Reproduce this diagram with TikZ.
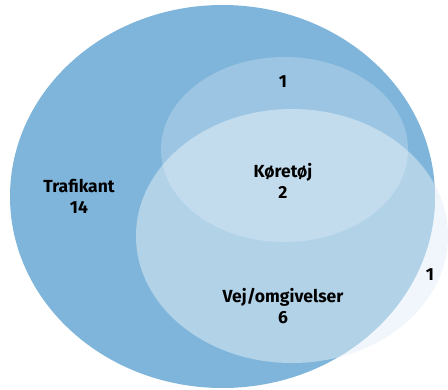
\documentclass[tikz,border=0pt]{standalone}
\usepackage{fontspec}
\setmainfont{Fira Sans}
\usepackage{xcolor}
\usepackage{tikz}
\definecolor{trafikblue}{HTML}{7FB5DA}
\definecolor{vejpale}{HTML}{F0F6FB}
\tikzset{
setlabel/.style={
font=\bfseries\fontsize{17.5}{21}\selectfont,
align=center,
text=black,
inner sep=0pt
},
overlay/.style={
fill=white,
fill opacity=#1
}
}

\begin{document}
\begin{tikzpicture}[x=1pt,y=-1pt]
\useasboundingbox (0,0) rectangle (448,389);
\clip (0,0) rectangle (448,389);

% sets
\fill[vejpale] (292,236) ellipse [x radius=156, y radius=127];
\fill[trafikblue] (222.5,196.5) ellipse [x radius=212.5, y radius=191.5];
\fill[overlay=0.22] (284.5,149.5) ellipse [x radius=123.5, y radius=92.5];
\begin{scope}
\clip (222.5,196.5) ellipse [x radius=212.5, y radius=191.5];
\fill[overlay=0.4] (292,236) ellipse [x radius=156, y radius=127];
\end{scope}

% labels
\node[setlabel] (trafikant) at (79,196) {Trafikant\\14};
\node[setlabel] (koeretoej) at (283,181) {Køretøj\\2};
\node[setlabel] (koeretoejonly) at (283,82) {1};
\node[setlabel] (vej) at (283,306) {Vej/omgivelser\\6};
\node[setlabel] (vejonly) at (430,275) {1};

\end{tikzpicture}
\end{document}
